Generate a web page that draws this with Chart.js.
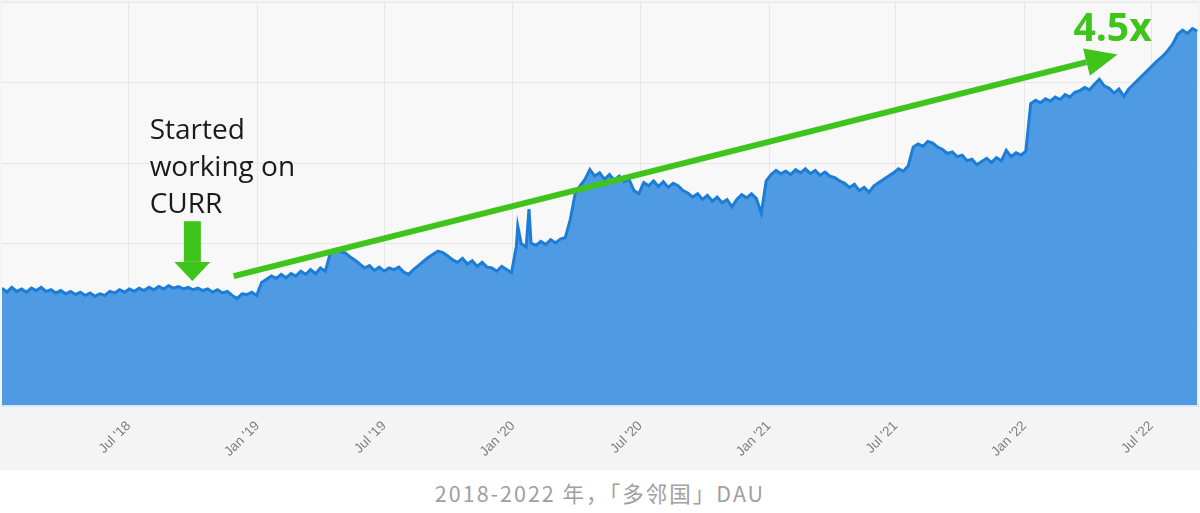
<!DOCTYPE html>
<html>
<head>
<meta charset="utf-8">
<script src="https://cdn.jsdelivr.net/npm/chart.js@4.4.1/dist/chart.umd.min.js"></script>
<style>
  html, body { margin: 0; padding: 0; background: #fff; }
  #wrap { width: 1200px; height: 470px; position: relative; }
  #caption {
    width: 1200px; height: 43px; line-height: 46px; text-align: center;
    font-family: "Noto Sans CJK SC", "Noto Sans", sans-serif; font-size: 21.5px;
    color: #a0a0a0; letter-spacing: 2px;
  }
</style>
</head>
<body>
<div id="wrap"><canvas id="dauChart" width="1200" height="470"></canvas></div>
<div id="caption">2018-2022 年，「多邻国」DAU</div>
<script>
// weekly DAU (relative units), starting on 2018-01-01
const startDate = "2018-01-01";
const endDate = "2022-09-06";
const weeklyDau = [
  1.45, 1.40, 1.46, 1.41, 1.44, 1.40, 1.45, 1.42, 1.46, 1.41,
  1.43, 1.39, 1.42, 1.38, 1.41, 1.37, 1.40, 1.36, 1.39, 1.35,
  1.38, 1.36, 1.41, 1.39, 1.43, 1.40, 1.44, 1.41, 1.45, 1.42,
  1.46, 1.43, 1.47, 1.44, 1.48, 1.45, 1.47, 1.44, 1.46, 1.43,
  1.45, 1.42, 1.44, 1.40, 1.43, 1.39, 1.41, 1.36, 1.32, 1.38,
  1.37, 1.40, 1.36, 1.52, 1.56, 1.60, 1.57, 1.62, 1.58, 1.63,
  1.60, 1.66, 1.62, 1.68, 1.63, 1.70, 1.66, 1.88, 1.93, 1.90,
  1.89, 1.84, 1.80, 1.75, 1.70, 1.73, 1.67, 1.71, 1.66, 1.70,
  1.68, 1.71, 1.65, 1.62, 1.68, 1.73, 1.78, 1.83, 1.87, 1.91,
  1.89, 1.85, 1.80, 1.77, 1.82, 1.75, 1.79, 1.72, 1.77, 1.71,
  1.70, 1.66, 1.72, 1.68, 1.64, 1.97, 2.00, 1.96, 2.01, 1.98,
  2.03, 1.99, 2.05, 2.01, 2.06, 2.08, 2.30, 2.62, 2.72, 2.80,
  2.92, 2.84, 2.88, 2.80, 2.86, 2.79, 2.84, 2.77, 2.80, 2.66,
  2.62, 2.76, 2.72, 2.78, 2.71, 2.77, 2.70, 2.75, 2.72, 2.66,
  2.63, 2.58, 2.62, 2.55, 2.60, 2.53, 2.58, 2.51, 2.55, 2.46,
  2.55, 2.61, 2.57, 2.62, 2.56, 2.38, 2.78, 2.86, 2.91, 2.87,
  2.90, 2.86, 2.92, 2.88, 2.93, 2.87, 2.91, 2.85, 2.89, 2.84,
  2.82, 2.78, 2.75, 2.70, 2.74, 2.66, 2.70, 2.64, 2.72, 2.76,
  2.80, 2.84, 2.88, 2.93, 2.90, 2.97, 3.20, 3.24, 3.21, 3.27,
  3.25, 3.20, 3.17, 3.12, 3.14, 3.08, 3.10, 3.03, 3.05, 2.98,
  3.02, 3.06, 3.01, 3.07, 3.03, 3.16, 3.08, 3.13, 3.10, 3.15,
  3.74, 3.78, 3.75, 3.80, 3.77, 3.82, 3.79, 3.85, 3.82, 3.88,
  3.90, 3.94, 3.91, 3.98, 4.04, 3.96, 3.93, 3.87, 3.92, 3.83,
  3.92, 3.98, 4.04, 4.10, 4.16, 4.22, 4.28, 4.33, 4.40, 4.48,
  4.60, 4.65, 4.61, 4.67, 4.64
];
// single-day spikes in early 2020
const spikeDates = ["2020-01-08", "2020-01-24"];
const spikeDau = [2.22, 2.43];

const tickDates = ["2018-07-01", "2019-01-01", "2019-07-01", "2020-01-01", "2020-07-01",
                   "2021-01-01", "2021-07-01", "2022-01-01", "2022-07-01"];
const tickLabels = ["Jul '18", "Jan '19", "Jul '19", "Jan '20", "Jul '20",
                    "Jan '21", "Jul '21", "Jan '22", "Jul '22"];

const dayOf = d => Math.round((Date.parse(d) - Date.parse(startDate)) / 86400000);
const tickDays = tickDates.map(dayOf);

const points = weeklyDau.map((v, i) => ({ x: i * 7, y: v }))
  .concat(spikeDates.map((d, i) => ({ x: dayOf(d), y: spikeDau[i] })))
  .sort((a, b) => a.x - b.x);

// annotation, in data units (days, DAU)
const trendFrom = { x: dayOf("2018-11-28"), y: 1.60 };
const trendTo = { x: dayOf("2022-05-14"), y: 4.35 };
const startMark = { x: dayOf("2018-09-30"), top: 2.28, tip: 1.54 };
const noteLines = ["Started", "working on", "CURR"];
const noteAt = { x: dayOf("2018-07-31"), y: 3.30 };
const growthLabel = "4.5x";
const growthAt = { x: dayOf("2022-03-12"), y: 4.51 };

const GREEN = "#3fc41c";

const bgPlugin = {
  id: "bg",
  beforeDraw(chart) {
    const { ctx, chartArea: a } = chart;
    ctx.save();
    ctx.fillStyle = "#f4f4f4";
    ctx.fillRect(0, 0, chart.width, chart.height);
    ctx.fillStyle = "#f8f8f8";
    ctx.fillRect(a.left, a.top, a.right - a.left, a.bottom - a.top);
    ctx.restore();
  }
};

const notePlugin = {
  id: "notes",
  afterDatasetsDraw(chart) {
    const { ctx } = chart;
    const xs = chart.scales.x, ys = chart.scales.y;
    ctx.save();
    ctx.fillStyle = GREEN;
    ctx.strokeStyle = GREEN;

    // trend arrow
    const x1 = xs.getPixelForValue(trendFrom.x), y1 = ys.getPixelForValue(trendFrom.y);
    const x2 = xs.getPixelForValue(trendTo.x), y2 = ys.getPixelForValue(trendTo.y);
    const ang = Math.atan2(y2 - y1, x2 - x1);
    const headLen = 32, headW = 14;
    const bx = x2 - headLen * Math.cos(ang), by = y2 - headLen * Math.sin(ang);
    ctx.lineWidth = 6;
    ctx.beginPath();
    ctx.moveTo(x1, y1);
    ctx.lineTo(bx, by);
    ctx.stroke();
    ctx.beginPath();
    ctx.moveTo(x2, y2);
    ctx.lineTo(bx + headW * Math.sin(ang), by - headW * Math.cos(ang));
    ctx.lineTo(bx - headW * Math.sin(ang), by + headW * Math.cos(ang));
    ctx.closePath();
    ctx.fill();

    // down arrow
    const ax = xs.getPixelForValue(startMark.x);
    const aTop = ys.getPixelForValue(startMark.top);
    const aTip = ys.getPixelForValue(startMark.tip);
    const aBase = aTip - 19;
    ctx.fillRect(ax - 8.5, aTop, 17, aBase - aTop);
    ctx.beginPath();
    ctx.moveTo(ax - 18, aBase);
    ctx.lineTo(ax + 18, aBase);
    ctx.lineTo(ax, aTip);
    ctx.closePath();
    ctx.fill();

    // text
    ctx.fillStyle = "#1b1b1b";
    ctx.font = "28px 'Open Sans', sans-serif";
    ctx.textBaseline = "alphabetic";
    ctx.textAlign = "left";
    const tx = xs.getPixelForValue(noteAt.x), ty = ys.getPixelForValue(noteAt.y);
    noteLines.forEach((t, i) => ctx.fillText(t, tx, ty + i * 37));

    ctx.fillStyle = GREEN;
    ctx.font = "bold 39px 'Open Sans', sans-serif";
    ctx.fillText(growthLabel, xs.getPixelForValue(growthAt.x), ys.getPixelForValue(growthAt.y));
    ctx.restore();
  }
};

new Chart(document.getElementById("dauChart"), {
  type: "line",
  data: {
    datasets: [{
      data: points,
      borderColor: "#1c7dd7",
      borderWidth: 3,
      backgroundColor: "#4f9be3",
      fill: "origin",
      pointRadius: 0,
      tension: 0
    }]
  },
  options: {
    responsive: false,
    animation: false,
    layout: { padding: { left: 2, right: 2, top: 2, bottom: 0 } },
    plugins: { legend: { display: false }, tooltip: { enabled: false } },
    scales: {
      x: {
        type: "linear",
        min: 0,
        max: dayOf(endDate),
        afterBuildTicks: axis => { axis.ticks = tickDays.map(v => ({ value: v })); },
        afterFit: axis => { axis.height = 65; },
        ticks: {
          autoSkip: false,
          minRotation: 45,
          maxRotation: 45,
          padding: 13,
          color: "#7d7d7d",
          font: { family: "'Liberation Sans', Arial, sans-serif", size: 13.5 },
          callback: v => tickLabels[tickDays.indexOf(v)]
        },
        grid: { color: "#e6e6e6", drawTicks: false },
        border: { color: "#dce7f4", width: 3 }
      },
      y: {
        min: 0,
        max: 5,
        ticks: { display: false, stepSize: 1 },
        grid: { color: "#e6e6e6", drawTicks: false },
        border: { display: false },
        afterFit: axis => { axis.width = 0; }
      }
    }
  },
  plugins: [bgPlugin, notePlugin]
});
</script>
</body>
</html>
